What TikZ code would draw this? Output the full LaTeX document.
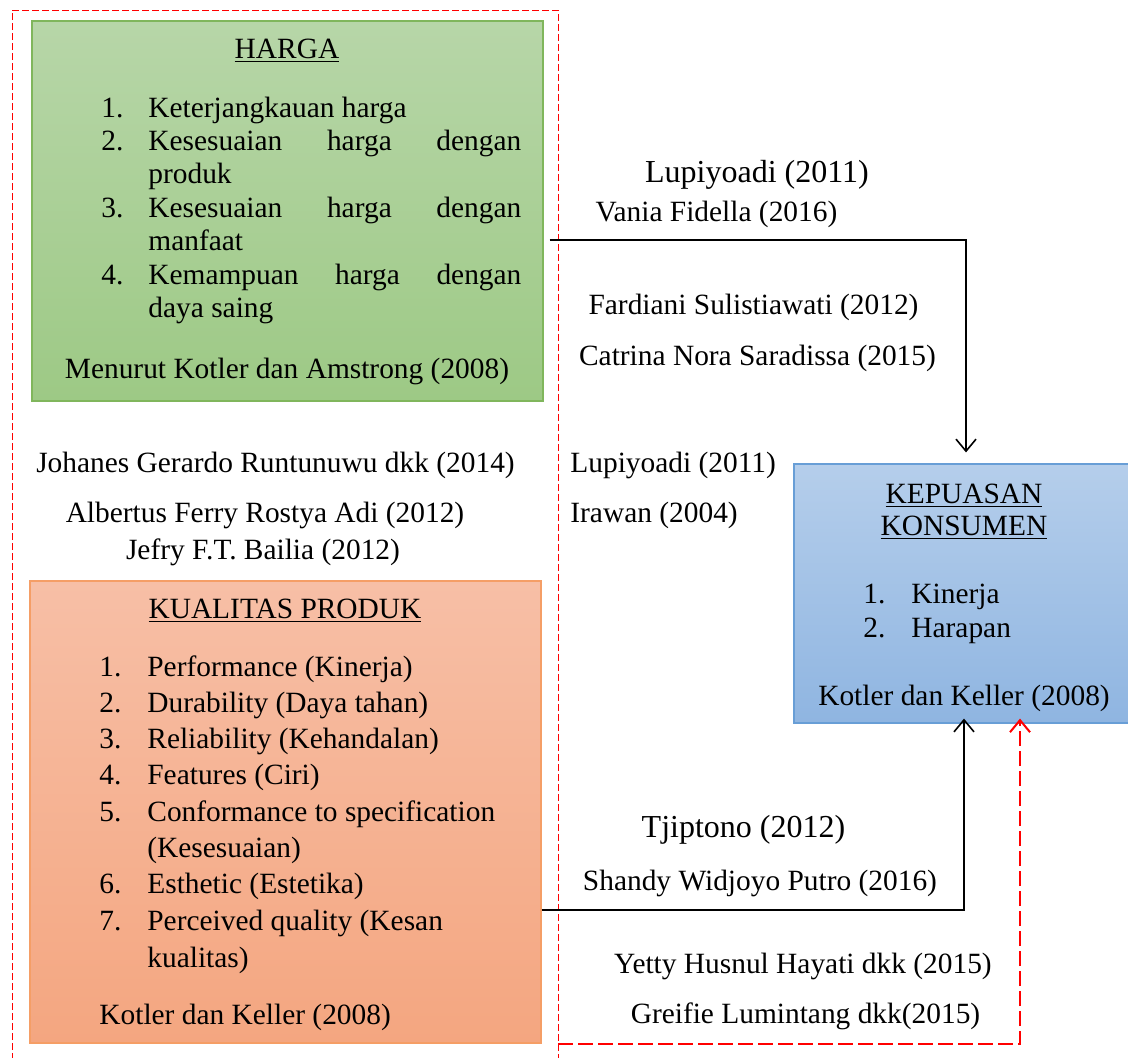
\documentclass[tikz,border=0pt]{standalone}
\usepackage{fontspec}
\setmainfont{Liberation Serif}
\usetikzlibrary{arrows.meta}
\definecolor{hijauatas}{RGB}{183,214,168}
\definecolor{hijaubawah}{RGB}{157,201,133}
\definecolor{hijaugaris}{RGB}{128,182,92}
\definecolor{oranyeatas}{RGB}{247,191,166}
\definecolor{oranyebawah}{RGB}{244,166,128}
\definecolor{oranyegaris}{RGB}{245,158,102}
\definecolor{biruatas}{RGB}{181,206,235}
\definecolor{birubawah}{RGB}{143,181,225}
\definecolor{birugaris}{RGB}{104,158,214}

\begin{document}
\begin{tikzpicture}[x=0.5pt,y=-0.5pt]
		\tikzset{
			teks/.style={font=\fontsize{14.7}{17}\selectfont,inner sep=0pt},
			tengah/.style={teks,anchor=base},
			kiri/.style={teks,anchor=base west},
			besar/.style={font=\fontsize{16}{19}\selectfont,inner sep=0pt,anchor=base},
			kotak/.style={draw,inner sep=0pt,line width=0.6pt},
			panah/.style={-{Straight Barb[length=6pt,width=10pt]},line width=0.8pt,black}
		}
		\useasboundingbox (0,0) rectangle (1128,1057);

		%Kotak
		\node (harga) at (287.5,211) [kotak,draw=hijaugaris,top color=hijauatas,bottom color=hijaubawah,minimum width=255.5pt,minimum height=190pt] {};
		\node (kualitas) at (285.5,812) [kotak,draw=oranyegaris,top color=oranyeatas,bottom color=oranyebawah,minimum width=255.5pt,minimum height=231pt] {};
		\node (kepuasan) at (964,593.5) [kotak,draw=birugaris,top color=biruatas,bottom color=birubawah,minimum width=170pt,minimum height=129.5pt] {};

		%Garis merah
		\draw[red,dash pattern=on 3.5pt off 1.5pt,line width=0.5pt] (12,1060) -- (12,10) -- (558,10) -- (558,1060);

		% harga
		\node (h0) at (287,58) [tengah] {\underline{HARGA}};
		\node (hn1) at (101,117) [kiri] {1.};
		\node (h1) at (148,117) [kiri] {Keterjangkauan harga};
		\node (hn2) at (101,150.4) [kiri] {2.};
		\node (h2) at (148,150.4) [kiri] {\makebox[186.5pt][s]{Kesesuaian harga dengan}};
		\node (h2b) at (148,183.8) [kiri] {produk};
		\node (hn3) at (101,217.2) [kiri] {3.};
		\node (h3) at (148,217.2) [kiri] {\makebox[186.5pt][s]{Kesesuaian harga dengan}};
		\node (h3b) at (148,250.6) [kiri] {manfaat};
		\node (hn4) at (101,284) [kiri] {4.};
		\node (h4) at (148,284) [kiri] {\makebox[186.5pt][s]{Kemampuan harga dengan}};
		\node (h4b) at (148,317.4) [kiri] {daya saing};
		\node (h5) at (287,378) [tengah] {Menurut Kotler dan Amstrong (2008)};

		% kualitas produk
		\node (k0) at (285,618) [tengah] {\underline{KUALITAS PRODUK}};
		\node (kn1) at (99,676) [kiri] {1.};
		\node (k1) at (147,676) [kiri] {Performance (Kinerja)};
		\node (kn2) at (99,712) [kiri] {2.};
		\node (k2) at (147,712) [kiri] {Durability (Daya tahan)};
		\node (kn3) at (99,748) [kiri] {3.};
		\node (k3) at (147,748) [kiri] {Reliability (Kehandalan)};
		\node (kn4) at (99,784) [kiri] {4.};
		\node (k4) at (147,784) [kiri] {Features (Ciri)};
		\node (kn5) at (99,821) [kiri] {5.};
		\node (k5) at (147,821) [kiri] {Conformance to specification};
		\node (k5b) at (147,857) [kiri] {(Kesesuaian)};
		\node (kn6) at (99,893) [kiri] {6.};
		\node (k6) at (147,893) [kiri] {Esthetic (Estetika)};
		\node (kn7) at (99,930) [kiri] {7.};
		\node (k7) at (147,930) [kiri] {Perceived quality (Kesan};
		\node (k7b) at (147,967) [kiri] {kualitas)};
		\node (k8) at (99,1024) [kiri] {Kotler dan Keller (2008)};

		% kepuasan konsumen
		\node (p0) at (964,503) [tengah] {\underline{KEPUASAN}};
		\node (p0b) at (964,535) [tengah] {\underline{KONSUMEN}};
		\node (pn1) at (863,603) [kiri] {1.};
		\node (p1) at (911,603) [kiri] {Kinerja};
		\node (pn2) at (863,637) [kiri] {2.};
		\node (p2) at (911,637) [kiri] {Harapan};
		\node (p3) at (964,705) [tengah] {Kotler dan Keller (2008)};

		% peneliti
		\node (r1) at (757,182) [besar] {Lupiyoadi (2011)};
		\node (r2) at (716.5,221) [tengah] {Vania Fidella (2016)};
		\node (r3) at (753.5,314) [tengah] {Fardiani Sulistiawati (2012)};
		\node (r4) at (757.5,365) [tengah] {Catrina Nora Saradissa (2015)};
		\node (r5) at (275.5,472) [tengah] {Johanes Gerardo Runtunuwu dkk (2014)};
		\node (r6) at (265,522) [tengah] {Albertus Ferry Rostya Adi (2012)};
		\node (r7) at (263,559) [tengah] {Jefry F.T. Bailia (2012)};
		\node (r8) at (570,472) [kiri] {Lupiyoadi (2011)};
		\node (r9) at (570,522) [kiri] {Irawan (2004)};
		\node (r10) at (743.5,837) [besar] {Tjiptono (2012)};
		\node (r11) at (760,890) [tengah] {Shandy Widjoyo Putro (2016)};
		\node (r12) at (803,973) [tengah] {Yetty Husnul Hayati dkk (2015)};
		\node (r13) at (805.5,1023) [tengah] {Greifie Lumintang dkk(2015)};

		%Panah
		\coordinate (m0) at (558,1044);
		\draw[panah] ([xshift=3pt]harga.east |- 0,240) -| ([xshift=1pt,yshift=5.5pt]kepuasan.north);
		\draw[panah] (kualitas.east |- 0,910) -| ([yshift=2.5pt]kepuasan.south);
		\draw[panah,red,line width=1pt,dash pattern=on 7.5pt off 2.5pt] (m0) -| ([xshift=28pt,yshift=2.5pt]kepuasan.south);
	\end{tikzpicture}
\end{document}
